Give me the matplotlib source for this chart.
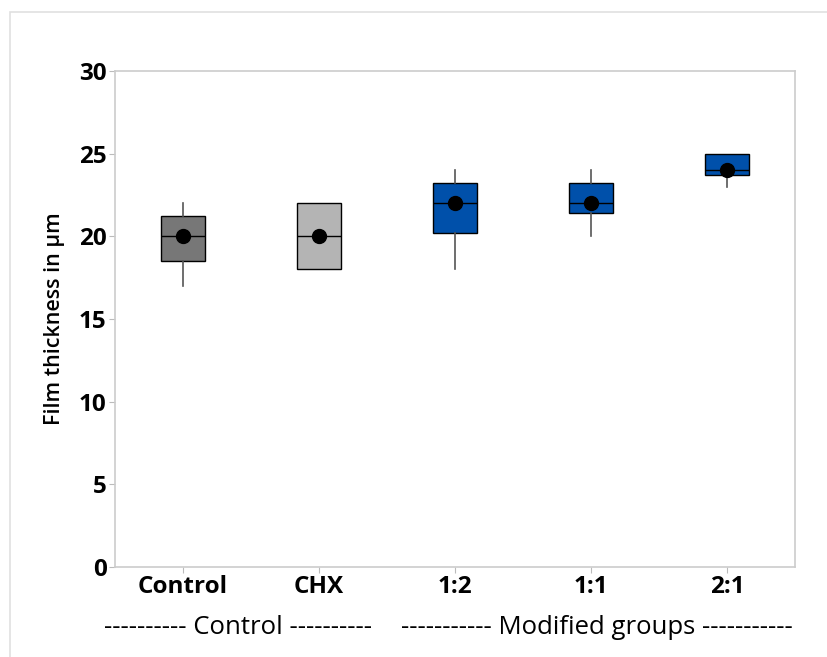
import matplotlib
matplotlib.use('Agg')
import matplotlib.pyplot as plt
from matplotlib.patches import Rectangle

plt.rcParams['font.family'] = ['Open Sans', 'DejaVu Sans']

# group labels and box statistics (film thickness, um)
groups = ['Control', 'CHX', '1:2', '1:1', '2:1']
whisker_low = [17.0, 18.0, 18.0, 20.0, 23.0]
q1 = [18.5, 18.0, 20.2, 21.4, 23.7]
median = [20.0, 20.0, 22.0, 22.0, 24.0]
q3 = [21.25, 22.0, 23.25, 23.25, 25.0]
whisker_high = [22.0, 22.0, 24.0, 24.0, 25.0]
mean = [20.0, 20.0, 22.0, 22.0, 24.0]
box_colors = ['#777777', '#b4b4b4', '#0050aa', '#0050aa', '#0050aa']

fig = plt.figure(figsize=(8.27, 6.57), dpi=100)
ax = fig.add_axes([115 / 827, 1 - 567 / 657, 680 / 827, 496 / 657])

# outer light frame
fig.patches.append(Rectangle((10 / 827, -0.1), 1.2, 1 - 12 / 657 + 0.1,
                             transform=fig.transFigure, fill=False,
                             edgecolor='#e0e0e0', linewidth=1.2))

stats = []
for i, g in enumerate(groups):
    stats.append({'label': g, 'whislo': whisker_low[i], 'q1': q1[i],
                  'med': median[i], 'q3': q3[i], 'whishi': whisker_high[i],
                  'mean': mean[i]})

pos = list(range(1, len(groups) + 1))
bp = ax.bxp(stats, positions=pos, widths=0.33, patch_artist=True,
            showmeans=True, showcaps=False, showfliers=False,
            boxprops=dict(edgecolor='black', linewidth=1),
            medianprops=dict(color='black', linewidth=1),
            whiskerprops=dict(color='#555555', linewidth=1.2),
            meanprops=dict(marker='o', markerfacecolor='black',
                           markeredgecolor='black', markersize=10))
for patch, c in zip(bp['boxes'], box_colors):
    patch.set_facecolor(c)

ax.set_xlim(0.5, 5.5)
ax.set_ylim(0, 30)
ax.set_yticks([0, 5, 10, 15, 20, 25, 30])
ax.set_xticks(pos)
ax.set_xticklabels(groups)
for lab in ax.get_xticklabels() + ax.get_yticklabels():
    lab.set_fontsize(17.5)
    lab.set_fontweight('bold')
ax.tick_params(axis='both', color='#bbbbbb', length=4, width=0.8, pad=2)
for s in ax.spines.values():
    s.set_color('#cccccc')
    s.set_linewidth(1.2)

ax.set_ylabel('Film thickness in µm', fontsize=15.5, fontweight='semibold', labelpad=10)

fig.text(238 / 827, 1 - 627 / 657, '---------- Control ----------',
         ha='center', va='center', fontsize=18.5)
fig.text(597 / 827, 1 - 627 / 657, '----------- Modified groups -----------',
         ha='center', va='center', fontsize=18.5)

fig.savefig('out.png', dpi=100)
